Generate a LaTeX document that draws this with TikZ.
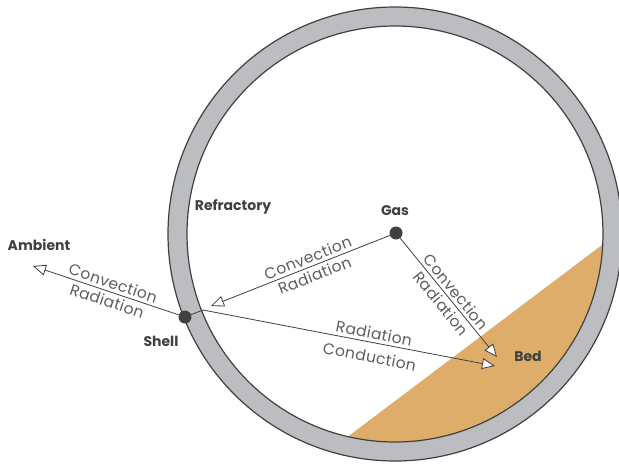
\documentclass[tikz,border=0pt]{standalone}
\usepackage{fontspec}
\setmainfont{Poppins}
\usetikzlibrary{arrows.meta}
\definecolor{ink}{HTML}{404041}
\definecolor{lbl}{HTML}{5E5E60}
\definecolor{ringgray}{HTML}{BCBDC0}
\definecolor{bedfill}{HTML}{DFAD6A}
\begin{document}
\begin{tikzpicture}[x=1pt,y=-1pt,
  dot/.style={circle,fill=ink,inner sep=0pt,minimum size=13pt},
  tag/.style={font=\bfseries\fontsize{14}{16}\selectfont,text=ink},
  flow/.style={draw=ink,line width=0.8pt,-{Triangle[open,length=13pt,width=11pt,fill=white]}},
  lab/.style={font=\fontsize{15.5}{17}\selectfont\addfontfeatures{LetterSpace=2.5},text=lbl,sloped,inner sep=3pt}]
\useasboundingbox (0,0) rectangle (619,464);
\fill[white] (0,0) rectangle (619,464);
\fill[ringgray] (395,234) circle (227pt);
\draw[ink,line width=1.2pt] (395,234) circle (227pt);
\fill[white] (395,234) circle (208pt);
\begin{scope}
\clip (395,234) circle (208pt);
\fill[bedfill] (300,472.7) -- (650,208.8) -- (650,700) -- (300,700) -- cycle;
\end{scope}
\draw[ink,line width=1.2pt] (395,234) circle (208pt);
\node[dot] (gas) at (396,233) {};
\node[dot] (shell) at (185,317) {};
\coordinate (amb) at (33,266);
\coordinate (refr) at (211,306);
\coordinate (kink) at (203,310);
\coordinate (bedA) at (497,357);
\coordinate (bedB) at (495,366);
\node[tag] (ambl) at (39,245) {Ambient};
\node[tag] (shelll) at (161,341) {Shell};
\node[tag] (refl) at (233,207) {Refractory};
\node[tag] (gasl) at (395,211) {Gas};
\node[tag] (bedl) at (528,356) {Bed};
\draw[flow] (shell) -- node[lab,above,pos=0.47]{Convection} node[lab,below,pos=0.47]{Radiation} (amb);
\draw[flow] (gas) -- node[lab,above,pos=0.44]{Convection} node[lab,below,pos=0.44]{Radiation} (refr);
\draw[flow] (gas) -- node[lab,above]{Convection} node[lab,below]{Radiation} (bedA);
\draw[flow] (shell) -- (kink) -- node[lab,above,pos=0.58]{Radiation} node[lab,below=5pt,pos=0.58]{Conduction} (bedB);
\end{tikzpicture}
\end{document}
